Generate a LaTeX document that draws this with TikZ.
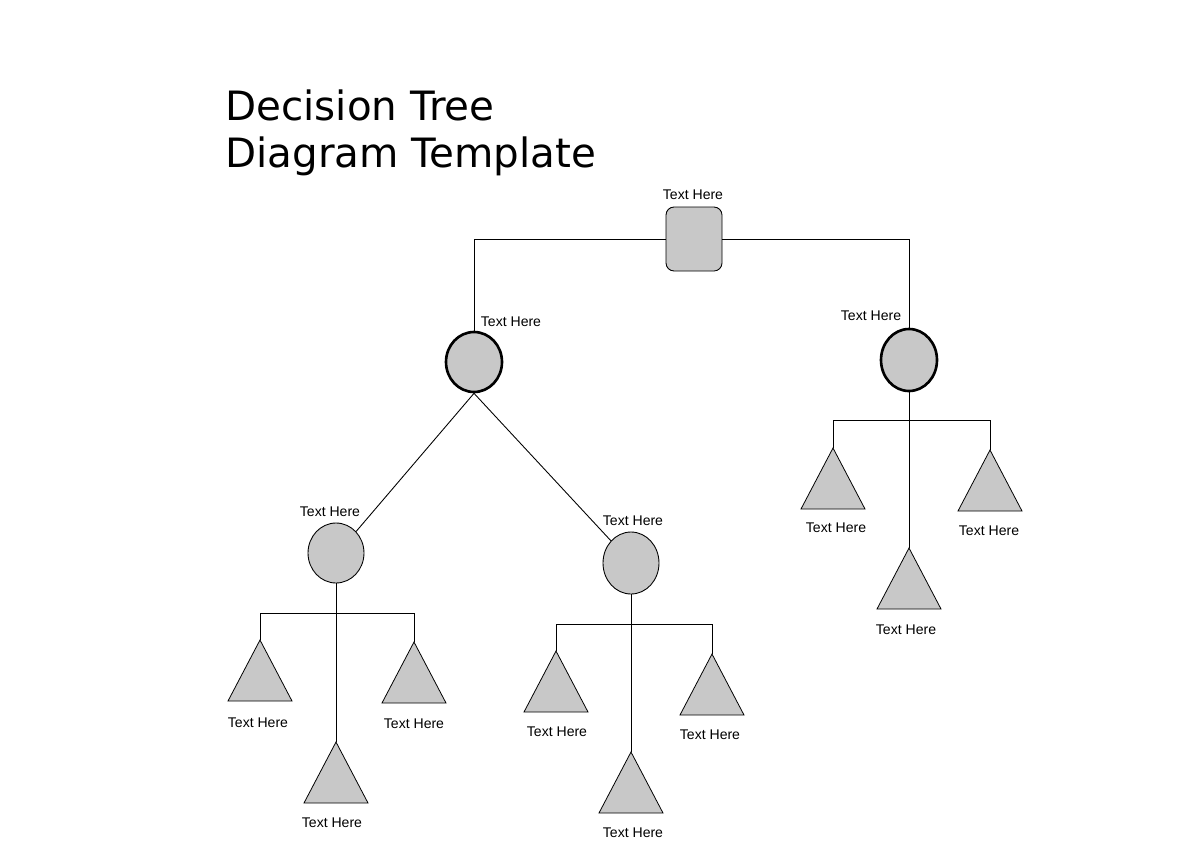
\documentclass[tikz,border=0pt]{standalone}
\usepackage{fontspec}
\setmainfont{Liberation Sans}
\newfontfamily\titlefont{DejaVu Sans}
\usetikzlibrary{shapes.geometric}
\definecolor{boxgray}{RGB}{200,200,200}
\tikzset{
  lbl/.style={font=\fontsize{8}{9}\selectfont, inner sep=1pt},
  ttl/.style={font=\titlefont\fontsize{23}{27}\selectfont, inner sep=0pt, anchor=base west},
  chance/.style={ellipse, draw, fill=boxgray, minimum width=1.12cm, minimum height=1.2cm, inner sep=0pt},
  tri/.style={draw, fill=boxgray, line width=.45pt, line join=miter},
  link/.style={line width=.5pt}
}
\begin{document}
\begin{tikzpicture}[x=0.02cm, y=-0.02cm]
\useasboundingbox (0,0) rectangle (1200,849);
% title
  \node[ttl] (title1) at (225,120) {Decision Tree};
  \node[ttl] (title2) at (225,167) {Diagram Template};
% decision and chance nodes
  \node[draw, fill=boxgray, rounded corners=0.16cm, minimum width=1.12cm,
        minimum height=1.28cm, line width=.5pt] (root) at (694,239) {};
  \node[chance, line width=1.5pt, minimum height=1.2cm] (c1) at (474,362) {};
  \node[chance, line width=1.5pt, minimum height=1.24cm] (c2) at (909,360) {};
  \node[chance, line width=.5pt] (c3) at (336,553) {};
  \node[chance, line width=.5pt, minimum height=1.24cm] (c4) at (631,563) {};
% end nodes
  \foreach \n/\x/\y in {t1/260/640, t2/336/742, t3/414/642,
                        t4/556/651, t5/631/752, t6/712/654,
                        t7/833/448, t8/909/548, t9/990/450} {
    \coordinate (\n) at (\x,\y);
    \draw[tri] (\n) -- ++(-32,61) -- ++(64,0) -- cycle;
  }
  \coordinate (b1) at (336,613);
  \coordinate (b2) at (631,624);
  \coordinate (b3) at (909,420);
% connectors
  \draw[link] (root.west) -| (c1.north);
  \draw[link] (root.east) -| (c2.north);
  \draw[link] (c1.south) -- (c3.north east);
  \draw[link] (c1.south) -- (c4.north west);
  \draw[link] (c3.south) -- (t2);
  \draw[link] (t1) -- (t1 |- b1) -- (t3 |- b1) -- (t3);
  \draw[link] (c4.south) -- (t5);
  \draw[link] (t4) -- (t4 |- b2) -- (t6 |- b2) -- (t6);
  \draw[link] (c2.south) -- (t8);
  \draw[link] (t7) -- (t7 |- b3) -- (t9 |- b3) -- (t9);
% labels
  \node[lbl] (l0) at (693,195) {Text Here};
  \node[lbl] (l1) at (511,322) {Text Here};
  \node[lbl] (l2) at (871,316) {Text Here};
  \node[lbl] (l3) at (330,512) {Text Here};
  \node[lbl] (l4) at (633,521) {Text Here};
  \node[lbl] (l5) at (258,723) {Text Here};
  \node[lbl] (l6) at (332,823) {Text Here};
  \node[lbl] (l7) at (414,724) {Text Here};
  \node[lbl] (l8) at (557,732) {Text Here};
  \node[lbl] (l9) at (633,833) {Text Here};
  \node[lbl] (l10) at (710,735) {Text Here};
  \node[lbl] (l11) at (836,528) {Text Here};
  \node[lbl] (l12) at (906,630) {Text Here};
  \node[lbl] (l13) at (989,531) {Text Here};
\end{tikzpicture}
\end{document}
